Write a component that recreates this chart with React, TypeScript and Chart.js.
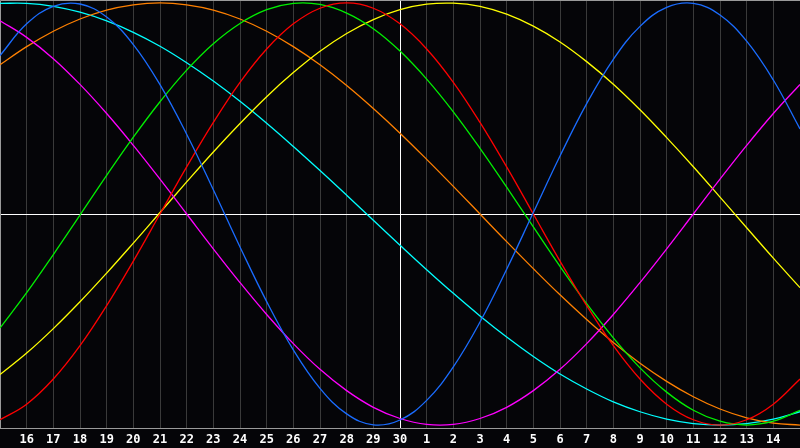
import React, { useEffect, useRef } from "react";
import { Chart, registerables } from "chart.js";

Chart.register(...registerables);

const days = ["15","16","17","18","19","20","21","22","23","24","25","26","27","28","29","30","1","2","3","4","5","6","7","8","9","10","11","12","13","14","15"];

const physical = [0.751,0.901,0.984,0.995,0.933,0.803,0.613,0.378,0.115,-0.156,-0.415,-0.644,-0.826,-0.947,-0.999,-0.976,-0.883,-0.724,-0.512,-0.262,0.007,0.275,0.523,0.733,0.889,0.979,0.998,0.943,0.819,0.635,0.403];
const emotional = [-0.975,-0.901,-0.782,-0.624,-0.434,-0.223,0,0.223,0.434,0.624,0.782,0.901,0.975,1,0.975,0.901,0.782,0.624,0.434,0.223,0,-0.223,-0.434,-0.624,-0.782,-0.901,-0.975,-1,-0.975,-0.901,-0.782];
const intellectual = [-0.540,-0.373,-0.192,-0.005,0.183,0.364,0.532,0.682,0.807,0.903,0.968,0.998,0.993,0.952,0.878,0.772,0.639,0.484,0.311,0.127,-0.061,-0.248,-0.425,-0.587,-0.729,-0.844,-0.930,-0.982,-1,-0.982,-0.930];
const intuitive = [0.916,0.837,0.736,0.614,0.476,0.325,0.165,0,-0.165,-0.325,-0.476,-0.614,-0.736,-0.837,-0.916,-0.969,-0.997,-0.997,-0.969,-0.916,-0.837,-0.736,-0.614,-0.476,-0.325,-0.165,0,0.165,0.325,0.476,0.614];
const aesthetic = [-0.761,-0.659,-0.543,-0.416,-0.280,-0.138,0.007,0.152,0.294,0.429,0.556,0.670,0.771,0.855,0.921,0.968,0.994,0.999,0.984,0.947,0.890,0.815,0.722,0.615,0.494,0.362,0.224,0.080,-0.065,-0.209,-0.349];
const awareness = [0.707,0.793,0.866,0.924,0.966,0.991,1,0.991,0.966,0.924,0.866,0.793,0.707,0.609,0.5,0.383,0.259,0.131,0,-0.131,-0.259,-0.383,-0.5,-0.609,-0.707,-0.793,-0.866,-0.924,-0.966,-0.991,-1];
const spiritual = [0.998,0.998,0.984,0.956,0.915,0.861,0.795,0.717,0.630,0.534,0.430,0.320,0.206,0.089,-0.030,-0.148,-0.264,-0.376,-0.483,-0.583,-0.675,-0.758,-0.829,-0.890,-0.937,-0.972,-0.993,-1,-0.993,-0.972,-0.937];

const series = [
  { label: "Physical", data: physical, color: "#1a6cff" },
  { label: "Emotional", data: emotional, color: "#ff0000" },
  { label: "Intellectual", data: intellectual, color: "#00f000" },
  { label: "Intuitive", data: intuitive, color: "#ff00ff" },
  { label: "Aesthetic", data: aesthetic, color: "#ffff00" },
  { label: "Awareness", data: awareness, color: "#ff8000" },
  { label: "Spiritual", data: spiritual, color: "#00ffff" },
];

const todayIndex = 15;

const borderPlugin = {
  id: "frameBorder",
  beforeDatasetsDraw(chart: any) {
    const { ctx, chartArea } = chart;
    ctx.save();
    ctx.strokeStyle = "#9a9a9a";
    ctx.lineWidth = 1;
    ctx.beginPath();
    ctx.moveTo(chartArea.left + 0.5, chartArea.bottom);
    ctx.lineTo(chartArea.left + 0.5, chartArea.top + 0.5);
    ctx.lineTo(chartArea.right, chartArea.top + 0.5);
    ctx.stroke();
    ctx.restore();
  },
};

export default function App() {
  const ref = useRef<HTMLCanvasElement | null>(null);
  useEffect(() => {
    if (!ref.current) return;
    const chart = new Chart(ref.current, {
      type: "line",
      data: {
        labels: days,
        datasets: series.map((s) => ({
          label: s.label,
          data: s.data,
          borderColor: s.color,
          backgroundColor: s.color,
          borderWidth: 1.3,
          pointRadius: 0,
          pointHoverRadius: 0,
          tension: 0.4,
          fill: false,
        })),
      },
      options: {
        responsive: false,
        animation: false,
        layout: { padding: 0, autoPadding: false },
        plugins: { legend: { display: false }, tooltip: { enabled: false } },
        scales: {
          x: {
            type: "category",
            offset: false,
            grid: {
              color: (c: any) => (c.index === todayIndex ? "#ffffff" : "#3a3a3a"),
              lineWidth: 1,
              drawTicks: false,
            },
            border: { display: true, color: "#9a9a9a", width: 1 },
            ticks: {
              color: "#ffffff",
              font: { family: "DejaVu Sans Mono", weight: "bold", size: 12 },
              padding: 5,
              autoSkip: false,
              maxRotation: 0,
              callback: (_v: any, i: number) => (i === 0 || i === days.length - 1 ? "" : days[i]),
            },
            afterFit: (s: any) => {
              s.height = 20;
              s.paddingLeft = 0;
              s.paddingRight = 0;
            },
          },
          y: {
            type: "linear",
            min: -1.014,
            max: 1.014,
            afterBuildTicks: (s: any) => {
              s.ticks = [{ value: 0 }];
            },
            grid: {
              color: (c: any) => (c.tick && c.tick.value === 0 ? "#ffffff" : "rgba(0,0,0,0)"),
              lineWidth: 1,
              drawTicks: false,
            },
            border: { display: false },
            ticks: { display: false },
            afterFit: (s: any) => {
              s.width = 0;
              s.paddingTop = 0;
              s.paddingBottom = 0;
            },
          },
        },
      },
      plugins: [borderPlugin],
    });
    return () => chart.destroy();
  }, []);
  return (
    <div style={{ position: "fixed", left: 0, top: 0, width: 800, height: 448, background: "#050508" }}>
      <canvas ref={ref} width={800} height={448} style={{ display: "block", background: "#050508" }} />
    </div>
  );
}
